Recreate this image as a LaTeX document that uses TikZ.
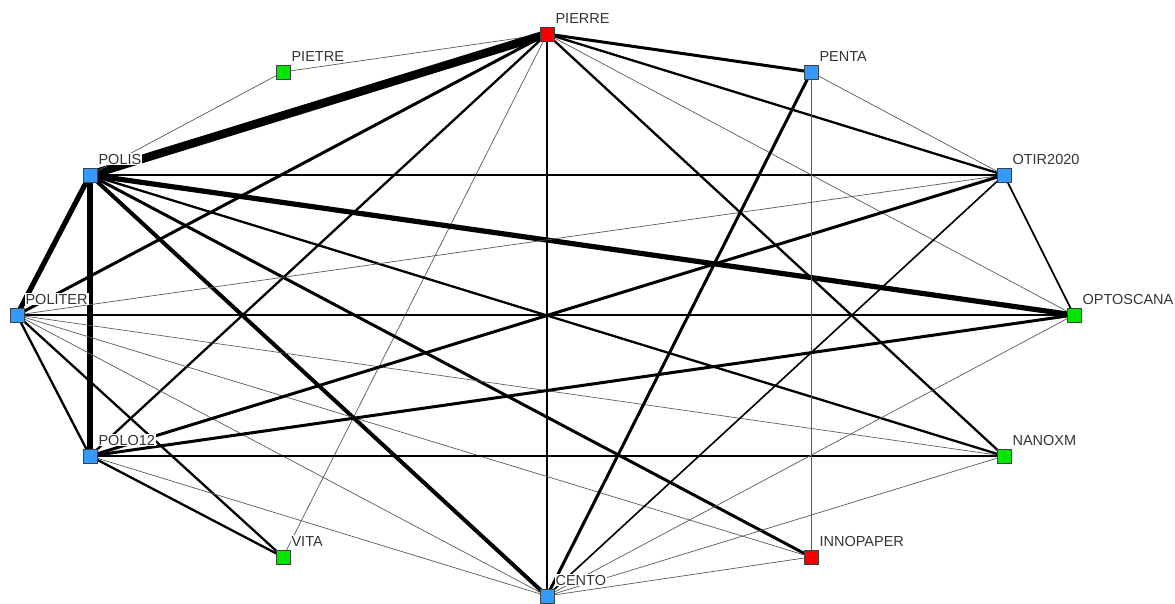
\documentclass[tikz,border=0pt]{standalone}
\usepackage{fontspec}
\setmainfont{Liberation Sans}
\usetikzlibrary{backgrounds}
\definecolor{nblue}{RGB}{51,153,255}
\definecolor{nred}{RGB}{245,0,0}
\definecolor{ngreen}{RGB}{0,230,0}
\begin{document}
\begin{tikzpicture}[x=1pt, y=-1pt,
        sq/.style={draw=black!75, line width=0.7pt, minimum size=14pt, inner sep=0pt},
        blu/.style={sq, fill=nblue},
        rd/.style={sq, fill=nred},
        grn/.style={sq, fill=ngreen},
        lbl/.style={anchor=south west, fill=white, inner sep=1pt, yshift=2pt, text=black!80,
            font=\fontsize{14.5}{16}\selectfont},
        e1/.style={line width=0.7pt, black!65},
        e2/.style={line width=1.6pt},
        e3/.style={line width=2.3pt},
        e4/.style={line width=3pt},
        e5/.style={line width=4pt},
        e6/.style={line width=5.2pt},
        e8/.style={line width=8.5pt}]
    \useasboundingbox (0, 0) rectangle (1175, 604);
    \node[rd] (pierre) at (547, 34) {};
    \node[grn] (pietre) at (283, 72) {};
    \node[blu] (penta) at (811, 72) {};
    \node[blu] (polis) at (90, 175) {};
    \node[blu] (otir) at (1004, 175) {};
    \node[blu] (politer) at (17, 315) {};
    \node[grn] (opto) at (1074, 315) {};
    \node[blu] (polo) at (90, 456) {};
    \node[grn] (nano) at (1004, 456) {};
    \node[grn] (vita) at (283, 557) {};
    \node[rd] (inno) at (811, 557) {};
    \node[blu] (cento) at (547, 596) {};
    \begin{pgfonlayer}{background}
        \draw[e1] (pierre.center) -- (pietre.center);
        \draw[e8] (pierre.center) -- (polis.center);
        \draw[e4] (pierre.center) -- (politer.center);
        \draw[e3] (pierre.center) -- (polo.center);
        \draw[e1] (pierre.center) -- (vita.center);
        \draw[e3] (pierre.center) -- (cento.center);
        \draw[e4] (pierre.center) -- (penta.center);
        \draw[e3] (pierre.center) -- (otir.center);
        \draw[e1] (pierre.center) -- (opto.center);
        \draw[e3] (pierre.center) -- (nano.center);
        \draw[e1] (polis.center) -- (pietre.center);
        \draw[e6] (polis.center) -- (politer.center);
        \draw[e6] (polis.center) -- (polo.center);
        \draw[e2] (polis.center) -- (otir.center);
        \draw[e6] (polis.center) -- (opto.center);
        \draw[e3] (polis.center) -- (nano.center);
        \draw[e4] (polis.center) -- (inno.center);
        \draw[e5] (polis.center) -- (cento.center);
        \draw[e1] (politer.center) -- (otir.center);
        \draw[e2] (politer.center) -- (opto.center);
        \draw[e1] (politer.center) -- (nano.center);
        \draw[e1] (politer.center) -- (inno.center);
        \draw[e1] (politer.center) -- (cento.center);
        \draw[e3] (politer.center) -- (vita.center);
        \draw[e3] (politer.center) -- (polo.center);
        \draw[e4] (polo.center) -- (otir.center);
        \draw[e4] (polo.center) -- (opto.center);
        \draw[e2] (polo.center) -- (nano.center);
        \draw[e3] (polo.center) -- (vita.center);
        \draw[e1] (polo.center) -- (cento.center);
        \draw[e1] (penta.center) -- (otir.center);
        \draw[e1] (penta.center) -- (inno.center);
        \draw[e4] (penta.center) -- (cento.center);
        \draw[e2] (otir.center) -- (opto.center);
        \draw[e2] (otir.center) -- (cento.center);
        \draw[e1] (cento.center) -- (opto.center);
        \draw[e1] (cento.center) -- (nano.center);
        \draw[e1] (cento.center) -- (inno.center);
    \end{pgfonlayer}
    \node[lbl] (pierrel) at (pierre.north east) {PIERRE};
    \node[lbl] (pietrel) at (pietre.north east) {PIETRE};
    \node[lbl] (pental) at (penta.north east) {PENTA};
    \node[lbl] (polisl) at (polis.north east) {POLIS};
    \node[lbl] (otirl) at (otir.north east) {OTIR2020};
    \node[lbl] (politerl) at (politer.north east) {POLITER};
    \node[lbl] (optol) at (opto.north east) {OPTOSCANA};
    \node[lbl] (polol) at (polo.north east) {POLO12};
    \node[lbl] (nanol) at (nano.north east) {NANOXM};
    \node[lbl] (vital) at (vita.north east) {VITA};
    \node[lbl] (innol) at (inno.north east) {INNOPAPER};
    \node[lbl] (centol) at (cento.north east) {CENTO};
\end{tikzpicture}
\end{document}
